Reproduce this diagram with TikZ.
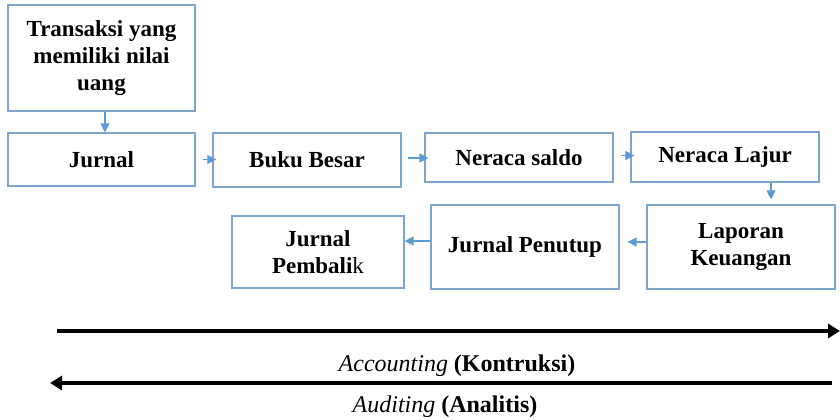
\documentclass[tikz,border=0pt]{standalone}
\usepackage{fontspec}
\setmainfont{Liberation Serif}
\usepackage{tikz}
\usetikzlibrary{positioning,arrows.meta,calc}
\definecolor{garisbiru}{RGB}{126,166,204}
\definecolor{panahbiru}{RGB}{91,155,213}
\begin{document}
\begin{tikzpicture}[x=0.5pt,y=-0.5pt,
    kotak/.style={draw=garisbiru,line width=0.6pt,align=center,inner sep=2pt,
      font=\fontsize{11.5}{13.5}\selectfont\bfseries},
    panah/.style={draw=panahbiru,line width=0.7pt,-{Triangle[length=4.5pt,width=4.5pt]}},
    tebal/.style={line width=2pt,-{Triangle[length=6pt,width=7pt]}},
    ket/.style={font=\fontsize{12}{14}\selectfont}]
  \useasboundingbox (0,0) rectangle (840,419);
  \node[kotak,minimum width=93.5pt,minimum height=53pt] (transaksi) at (101.5,58) {Transaksi yang\\memiliki nilai\\uang};
  \node[kotak,minimum width=93.5pt,minimum height=26.5pt] (jurnal) at (101.5,159.5) {Jurnal};
  \node[kotak,minimum width=94pt,minimum height=27pt] (buku) at (307,160) {Buku Besar};
  \node[kotak,minimum width=94pt,minimum height=24.5pt] (saldo) at (519,157.5) {Neraca saldo};
  \node[kotak,minimum width=94pt,minimum height=25pt] (lajur) at (725,157) {Neraca Lajur};
  \node[kotak,minimum width=94pt,minimum height=42pt] (laporan) at (741,247) {Laporan\\Keuangan};
  \node[kotak,minimum width=94pt,minimum height=42pt] (penutup) at (525,247) {Jurnal Penutup};
  \node[kotak,minimum width=86pt,minimum height=36pt] (pembalik) at (318,252) {Jurnal\\Pembali\textmd{k}};

  \draw[panah] ([xshift=1.75pt]transaksi.south) -- ([xshift=1.75pt]jurnal.north);
  \draw[panah,shorten <=3.5pt,shorten >=-2pt] (jurnal.east) -- (jurnal.east -| buku.west);
  \draw[panah,shorten <=3pt,shorten >=-2pt] ([yshift=1pt]buku.east) -- ([yshift=1pt]buku.east -| saldo.west);
  \draw[panah,shorten <=3.5pt,shorten >=-2pt] ([yshift=1pt]saldo.east) -- ([yshift=1pt]saldo.east -| lajur.west);
  \draw[panah,shorten >=2.5pt] ([xshift=23pt]lajur.south) -- ([xshift=23pt]lajur.south |- laporan.north);
  \draw[panah,shorten >=4pt] ([yshift=2.5pt]laporan.west) -- ([yshift=2.5pt]laporan.west -| penutup.east);
  \draw[panah] ([yshift=3pt]penutup.west) -- ([yshift=3pt]penutup.west -| pembalik.east);

  \coordinate (akun0) at (57,331);
  \coordinate (akun1) at (840,331);
  \coordinate (audit0) at (832,383);
  \coordinate (audit1) at (50,383);
  \draw[tebal] (akun0) -- (akun1);
  \draw[tebal] (audit0) -- (audit1);
  \node[ket] (akuntansi) at (457,366) {\textit{Accounting} \textbf{(Kontruksi)}};
  \node[ket] (auditing) at (445,407) {\textit{Auditing} \textbf{(Analitis)}};
\end{tikzpicture}
\end{document}
